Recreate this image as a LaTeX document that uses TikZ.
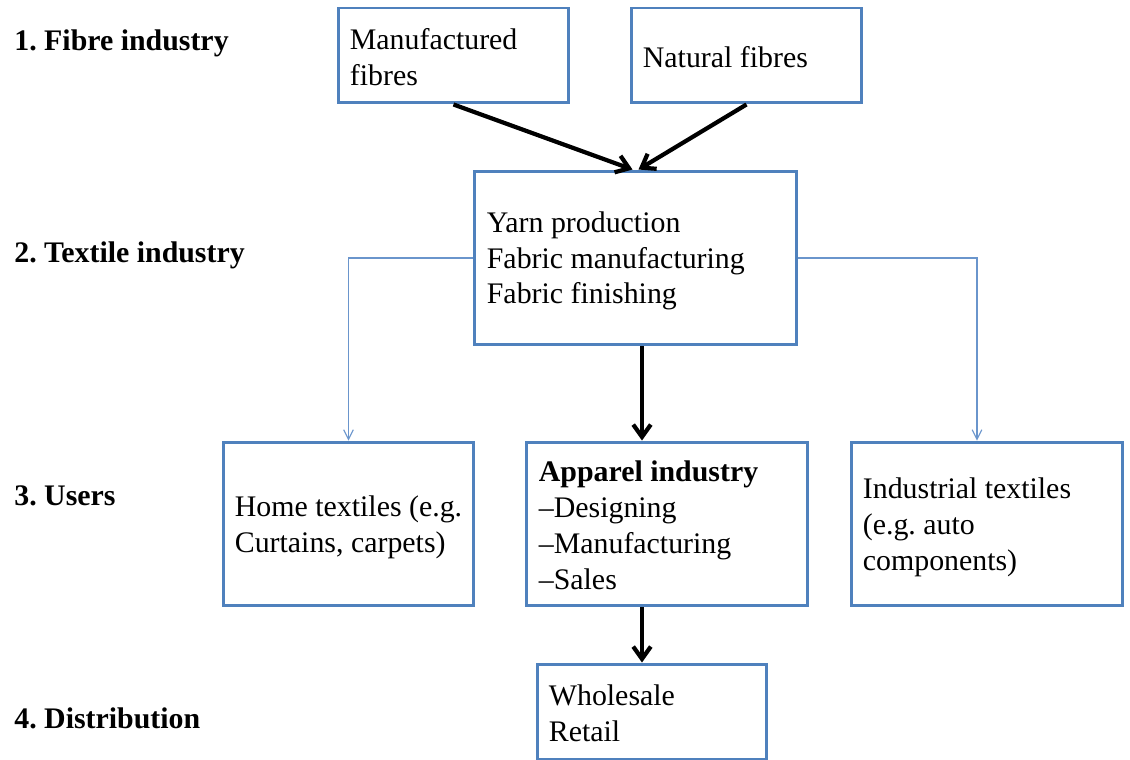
\documentclass[tikz,border=0pt]{standalone}
\usepackage{fontspec}
\setmainfont{Liberation Serif}
\usetikzlibrary{arrows.meta}
\begin{document}
\frenchspacing
\begin{tikzpicture}[x=0.02cm, y=-0.02cm,
  box/.style={draw=boxblue, line width=1.7pt, rectangle, inner sep=0pt},
  boxtext/.style={anchor=west, align=left, inner sep=0pt, font=\fontsize{17}{20.4}\selectfont},
  level/.style={anchor=west, inner sep=0pt, font=\fontsize{17}{20.4}\selectfont\bfseries},
  thick arrow/.style={line width=2.4pt, -{Straight Barb[length=7pt,width=10pt]}},
  thin arrow/.style={draw=linkblue, line width=0.6pt, -{Straight Barb[length=5.5pt,width=5.5pt]}}]
\definecolor{boxblue}{HTML}{4F81BD}
\definecolor{linkblue}{HTML}{6A95CC}
\useasboundingbox (0,0) rectangle (1130,760);
\node[level] (lvlfibre) at (14,43) {1. Fibre industry};
\node[level] (lvltextile) at (14,255) {2. Textile industry};
\node[level] (lvlusers) at (14,496) {3. Users};
\node[level] (lvldist) at (14,718) {4. Distribution};
\node[box, minimum width=4.62cm, minimum height=1.9cm] (manufactured) at (453.5,55.5) {};
\node[box, minimum width=4.62cm, minimum height=1.9cm] (natural) at (746.5,55.5) {};
\node[box, minimum width=6.46cm, minimum height=3.48cm] (textile) at (635.5,258) {};
\node[box, minimum width=5.02cm, minimum height=3.28cm] (home) at (348.5,524) {};
\node[box, minimum width=5.64cm, minimum height=3.28cm] (apparel) at (667,524) {};
\node[box, minimum width=5.44cm, minimum height=3.28cm] (industrial) at (987,524) {};
\node[box, minimum width=4.6cm, minimum height=1.92cm] (wholesale) at (652,712) {};
% texts inside the boxes
\node[boxtext] (manufacturedtext) at ([xshift=0.26cm,yshift=-0.03cm]manufactured.west) {Manufactured\\fibres};
\node[boxtext] (naturaltext) at ([xshift=0.26cm,yshift=-0.03cm]natural.west) {Natural fibres};
\node[boxtext] (textiletext) at ([xshift=0.28cm,yshift=-0.06cm]textile.west) {Yarn production\\Fabric manufacturing\\Fabric finishing};
\node[boxtext] (hometext) at ([xshift=0.26cm,yshift=-0.06cm]home.west) {Home textiles (e.g.\\Curtains, carpets)};
\node[boxtext] (appareltext) at ([xshift=0.28cm,yshift=-0.03cm]apparel.west) {\textbf{Apparel industry}\\\textendash Designing\\\textendash Manufacturing\\\textendash Sales};
\node[boxtext] (industrialtext) at ([xshift=0.26cm,yshift=-0.06cm]industrial.west) {Industrial textiles\\(e.g. auto\\components)};
\node[boxtext] (wholesaletext) at ([xshift=0.26cm,yshift=-0.03cm]wholesale.west) {Wholesale\\Retail};
\coordinate (spine) at (642,0);
\draw[thick arrow] (manufactured.south) -- ([xshift=-0.06cm]textile.north);
\draw[thick arrow] (natural.south) -- ([xshift=0.06cm]textile.north);
\draw[thick arrow] (textile.south -| spine) -- (apparel.north -| spine);
\draw[thick arrow] (apparel.south -| spine) -- (wholesale.north -| spine);
\draw[thin arrow] (textile.west) -| (home.north);
\draw[thin arrow] (textile.east) -| ([xshift=-0.2cm]industrial.north);
\end{tikzpicture}
\end{document}
